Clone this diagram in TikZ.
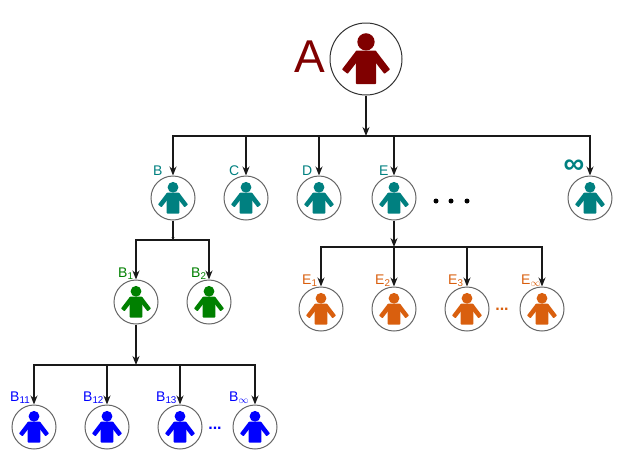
\documentclass[tikz,border=0pt]{standalone}
\usepackage{fontspec}
\setmainfont{Liberation Sans}
\usetikzlibrary{arrows.meta}
\definecolor{personA}{HTML}{800000}
\definecolor{personB}{HTML}{008080}
\definecolor{personC}{HTML}{008000}
\definecolor{personD}{HTML}{0000FF}
\definecolor{personE}{HTML}{D95F0E}
\tikzset{
	person/.pic={
		\fill (0,-10.7) circle (5.4);
		\fill[rounded corners=0.8] (-6.3,-5.3) -- (6.3,-5.3) -- (6.3,15.7) -- (-6.3,15.7) -- cycle;
		\fill[rounded corners=0.6] (-6,-5.3) -- (-15,6.5) -- (-11.5,9.3) -- (-5,1) -- cycle;
		\fill[rounded corners=0.6] (6,-5.3) -- (15,6.5) -- (11.5,9.3) -- (5,1) -- cycle;
	},
	circ/.style={draw=black!60, line width=1pt, circle, inner sep=0pt, minimum size=44pt},
	lab/.style={font=\fontsize{14}{14}\selectfont, anchor=base west, inner sep=0pt},
	link/.style={draw=black!90, line width=1.3pt, -{Stealth[length=9pt,width=7pt]}},
	bus/.style={draw=black!90, line width=1.3pt},
}
\begin{document}
\begin{tikzpicture}[x=1pt,y=-1pt]
	\useasboundingbox (0,0) rectangle (642,461);
	% root
	\node[circ, minimum size=72pt, draw=black!80] (A) at (366,59) {};
	\pic[personA, scale=1.6] at (A) {person};
	\node[lab, text=personA, font=\fontsize{46}{46}\selectfont] (labA) at (294,72) {A};
	% everybody else
	\foreach \nm/\x/\y/\col/\lx/\ly/\txt in {
		B/173/198/personB/153/175/B, C/246/198/personB/229/175/C, D/319/198/personB/302/175/D,
		E/394/198/personB/379/175/E,
		B1/136/302/personC/118/277/B\textsubscript{1}, B2/209/302/personC/191/277/B\textsubscript{2},
		E1/321/309/personE/302/284/E\textsubscript{1}, E2/394/309/personE/375/284/E\textsubscript{2},
		E3/467/309/personE/448/284/E\textsubscript{3}, Einf/542/309/personE/521/284/E\textsubscript{$\infty$},
		B11/34/427/personD/10/401/B\textsubscript{11}, B12/107/427/personD/83/401/B\textsubscript{12},
		B13/180/427/personD/156/401/B\textsubscript{13}, Binf/255/427/personD/229/401/B\textsubscript{$\infty$}}
	{
		\node[circ] (\nm) at (\x,\y) {};
		\pic[\col] at (\nm) {person};
		\node[lab, text=\col] (lab\nm) at (\lx,\ly) {\txt};
	}
	\node[circ] (inf) at (590,198) {};
	\pic[personB] at (inf) {person};
	\node[text=personB, inner sep=0pt, font=\fontsize{29}{29}\selectfont\bfseries] (labinf) at (574,167) {∞};
	% buses
	\coordinate (busA) at (366,136);
	\coordinate (busB) at (173,240);
	\coordinate (busB1) at (136,365);
	\coordinate (busE) at (394,247);
	\draw[link] (A) -- (busA);
	\draw[bus] (B) -- (busB);
	\draw[link] (E) -- (busE);
	\draw[link] (B1) -- (busB1);
	\fill[black!90] (busB) ++(-1.5,-3) -- ++(3,0) -- ++(-1.5,3) -- cycle;
	\foreach \to in {B,C,D,E,inf}
		\draw[link] (busA) -| (\to);
	\foreach \to in {B1,B2}
		\draw[link] (busB) -| (\to);
	\foreach \to in {E1,E2,E3,Einf}
		\draw[link] (busE) -| (\to);
	\foreach \to in {B11,B12,B13,Binf}
		\draw[link] (busB1) -| (\to);
	% dots
	\foreach \x in {436,451,467}
		\fill (\x,201) circle (2.5);
	\node[text=personE, inner sep=0pt, font=\fontsize{16}{16}\selectfont\bfseries] (moreE) at (502,309) {...};
	\node[text=personD, inner sep=0pt, font=\fontsize{16}{16}\selectfont\bfseries] (moreB) at (215,428) {...};
\end{tikzpicture}
\end{document}
